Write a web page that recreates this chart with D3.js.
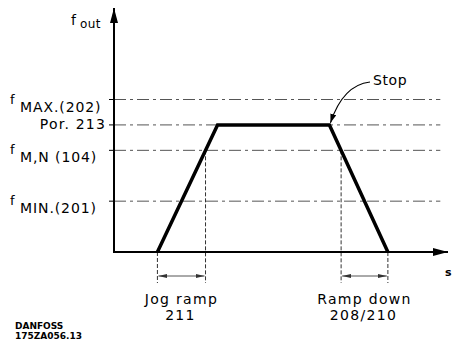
<!DOCTYPE html>
<html>
<head>
<meta charset="utf-8">
<script src="https://cdn.jsdelivr.net/npm/d3@7"></script>
<style>
  html, body { margin: 0; padding: 0; background: #fff; }
  svg { display: block; }
  text { font-family: "DejaVu Sans", sans-serif; fill: #000; }
</style>
</head>
<body>
<svg id="chart" width="452" height="344"></svg>
<script>
// Jog profile: output frequency against time (arbitrary units)
const profileTime = [13, 31, 64.5, 82];
const profileFreq = [0, 50, 50, 0];

// Reference frequency levels drawn as dash-dot guides
const levelKeys   = ["max", "par", "mn", "min"];
const levelFreq   = [60, 50, 40, 20];
const levelPrefix = ["f", "", "f", "f"];
const levelText   = ["MAX.(202)", "Por. 213", "M,N (104)", "MIN.(201)"];

// Ramp annotations under the time axis
const rampLabels  = [["Jog ramp", "211"], ["Ramp down", "208/210"]];
const markerLevel = 40;           // ramps are measured to the f M,N level

const axisLabels  = { y: ["f", "out"], x: "s" };
const stopLabel   = "Stop";
const footer      = ["DANFOSS", "175ZA056.13"];

const svg = d3.select("#chart");
const x = d3.scaleLinear().domain([0, 100]).range([114, 448]);
const y = d3.scaleLinear().domain([0, 96]).range([252, 8]);

const defs = svg.append("defs");
function arrowMarker(id, w, h, color) {
  defs.append("marker")
    .attr("id", id).attr("viewBox", `0 0 ${w} ${h}`)
    .attr("refX", w).attr("refY", h / 2)
    .attr("markerWidth", w).attr("markerHeight", h)
    .attr("markerUnits", "userSpaceOnUse")
    .attr("orient", "auto-start-reverse")
    .append("path").attr("d", `M0,0L${w},${h / 2}L0,${h}Z`).attr("fill", color);
}
arrowMarker("axisHead", 15, 8, "#000");
arrowMarker("dimHead", 9, 4, "#333");
arrowMarker("stopHead", 9, 6, "#000");

// Level guides
const levels = levelKeys.map((k, i) => ({
  key: k, f: levelFreq[i], prefix: levelPrefix[i], text: levelText[i]
}));
svg.append("g").selectAll("line").data(levels).join("line")
  .attr("x1", x(0)).attr("x2", x(97.7))
  .attr("y1", d => y(d.f)).attr("y2", d => y(d.f))
  .attr("stroke", "#555").attr("stroke-width", 1)
  .attr("stroke-dasharray", "12,4,3,4");

// Ticks on the frequency axis
svg.append("g").selectAll("line").data(levels).join("line")
  .attr("x1", x(0) - 5).attr("x2", x(0))
  .attr("y1", d => y(d.f)).attr("y2", d => y(d.f))
  .attr("stroke", "#000").attr("stroke-width", 1);

// Level labels
const lab = svg.append("g");
levels.forEach(d => {
  const yy = y(d.f);
  if (d.prefix) {
    lab.append("text").attr("x", 10).attr("y", yy + 4).attr("font-size", 13).text(d.prefix);
    lab.append("text").attr("x", 20).attr("y", yy + 12).attr("font-size", 14)
      .attr("letter-spacing", 0.9).text(d.text);
  } else {
    lab.append("text").attr("x", 106).attr("y", yy + 4.5).attr("font-size", 14)
      .attr("text-anchor", "end").attr("letter-spacing", 1.2).text(d.text);
  }
});

// Ramp marker positions: where the ramps cross the reference level
const t = profileFreq.map((f, i) => ({ t: profileTime[i], f }));
function crossAt(a, b, f) { return a.t + (f - a.f) / (b.f - a.f) * (b.t - a.t); }
const ramps = [
  { from: t[0].t, to: crossAt(t[0], t[1], markerLevel), label: rampLabels[0] },
  { from: crossAt(t[2], t[3], markerLevel), to: t[3].t, label: rampLabels[1] }
];

const marks = svg.append("g");
ramps.forEach(r => {
  [r.from, r.to].forEach(tt => {
    const onRamp = profileTime.includes(tt) ? 0 : markerLevel;
    marks.append("line")
      .attr("x1", x(tt)).attr("x2", x(tt))
      .attr("y1", y(onRamp)).attr("y2", 283)
      .attr("stroke", "#333").attr("stroke-width", 1)
      .attr("stroke-dasharray", "4,2");
  });
  marks.append("line")
    .attr("x1", x(r.from) + 1).attr("x2", x(r.to) - 1)
    .attr("y1", 276).attr("y2", 276)
    .attr("stroke", "#555").attr("stroke-width", 1)
    .attr("marker-start", "url(#dimHead)").attr("marker-end", "url(#dimHead)");
  const cx = (x(r.from) + x(r.to)) / 2;
  marks.append("text").attr("x", cx).attr("y", 304).attr("text-anchor", "middle")
    .attr("font-size", 14).attr("letter-spacing", 1.3).text(r.label[0]);
  marks.append("text").attr("x", cx - 1).attr("y", 320).attr("text-anchor", "middle")
    .attr("font-size", 14).attr("letter-spacing", 1.3).text(r.label[1]);
});

// Axes
svg.append("line").attr("x1", x(0)).attr("x2", x(0))
  .attr("y1", y(0) + 1).attr("y2", y(96))
  .attr("stroke", "#000").attr("stroke-width", 2).attr("marker-end", "url(#axisHead)");
svg.append("line").attr("x1", x(0) - 1).attr("x2", x(100))
  .attr("y1", y(0)).attr("y2", y(0))
  .attr("stroke", "#000").attr("stroke-width", 2).attr("marker-end", "url(#axisHead)");

// Frequency profile
svg.append("path").datum(t)
  .attr("d", d3.line().x(d => x(d.t)).y(d => y(d.f)))
  .attr("fill", "none").attr("stroke", "#000").attr("stroke-width", 3.5)
  .attr("stroke-linejoin", "miter");

// Axis titles
svg.append("text").attr("x", 71).attr("y", 25).attr("font-size", 14).text(axisLabels.y[0]);
svg.append("text").attr("x", 80).attr("y", 28).attr("font-size", 12)
  .attr("letter-spacing", 0.4).text(axisLabels.y[1]);
svg.append("text").attr("x", 445).attr("y", 276).attr("font-size", 11)
  .attr("font-weight", "bold").text(axisLabels.x);

// Stop annotation
const stopPt = [x(profileTime[2]), y(profileFreq[2])];
svg.append("text").attr("x", 373).attr("y", 85).attr("font-size", 14)
  .attr("letter-spacing", 0.6).text(stopLabel);
svg.append("path")
  .attr("d", `M370,82Q343,85 ${stopPt[0] + 1},${stopPt[1] - 2}`)
  .attr("fill", "none").attr("stroke", "#000").attr("stroke-width", 1.2)
  .attr("marker-end", "url(#stopHead)");

// Footer
svg.append("text").attr("x", 15).attr("y", 329).attr("font-size", 9)
  .attr("font-weight", "bold").text(footer[0]);
svg.append("text").attr("x", 15).attr("y", 339).attr("font-size", 9)
  .attr("font-weight", "bold").text(footer[1]);
</script>
</body>
</html>
